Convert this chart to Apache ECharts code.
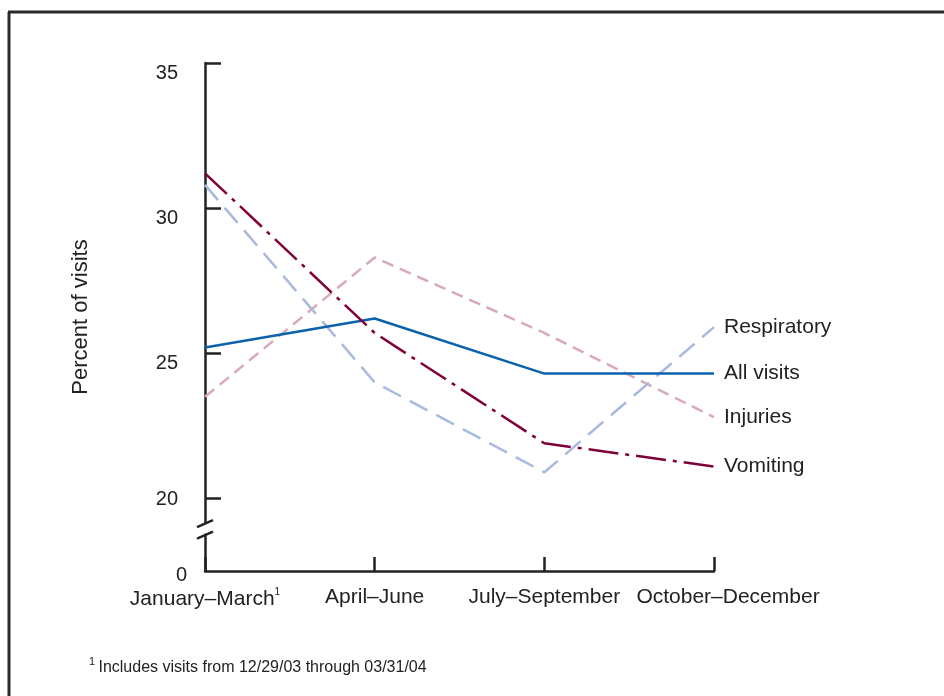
<!DOCTYPE html>
<html lang="en">
<head>
    <meta charset="UTF-8">
    <title>Percent of visits by quarter</title>
    <script type="text/javascript" src="https://cdn.jsdelivr.net/npm/echarts@6/dist/echarts.min.js"></script>
    <style>
        html, body { margin: 0; padding: 0; background: #fff; }
    </style>
</head>
<body>
    <div id="main" style="width: 944px; height:696px;"></div>
    <script type="text/javascript">
        var categories = ['January–March', 'April–June', 'July–September', 'October–December'];
        var allVisits = [25.2, 26.2, 24.3, 24.3];
        var respiratory = [30.8, 24.0, 20.9, 25.9];
        var injuries = [23.5, 28.3, 25.7, 22.8];
        var vomiting = [31.2, 25.7, 21.9, 21.1];
        var yTicks = [20, 25, 30, 35];
        var yBottom = 17.5;   // axis is broken below 20, bottom is labelled 0
        var footnote = 'Includes visits from 12/29/03 through 03/31/04';

        var font = '"Liberation Sans", Arial, sans-serif';
        var myChart = echarts.init(document.getElementById('main'));

        var option = {
            backgroundColor: '#fff',
            animation: false,
            textStyle: { fontFamily: font },
            grid: { left: 205, right: 230, top: 63, bottom: 125 },
            xAxis: {
                type: 'category',
                data: categories,
                boundaryGap: false,
                axisLine: { lineStyle: { color: '#222', width: 2.5 } },
                axisTick: { inside: true, interval: 0, length: 14, lineStyle: { color: '#222', width: 2.5 } },
                axisLabel: {
                    interval: 0,
                    hideOverlap: false,
                    color: '#222',
                    fontSize: 21,
                    margin: 16,
                    formatter: function (v, i) {
                        if (i === 0) return '{m|' + v + '}{sup|1}';
                        if (i === categories.length - 1) return '{last|' + v + '}';
                        return '{m|' + v + '}';
                    },
                    rich: {
                        m: { fontSize: 21, color: '#222', fontFamily: font },
                        last: { fontSize: 21, color: '#222', fontFamily: font, padding: [0, 0, 0, 28] },
                        sup: { fontSize: 10, color: '#222', fontFamily: font, padding: [0, 0, 14, 0] }
                    }
                }
            },
            yAxis: {
                type: 'value',
                min: yBottom,
                max: 35,
                name: 'Percent of visits',
                nameLocation: 'middle',
                nameRotate: 90,
                nameGap: 113,
                nameTextStyle: { fontSize: 22, color: '#222', fontFamily: font },
                splitLine: { show: false },
                axisLine: { show: true, lineStyle: { color: '#222', width: 2.5 } },
                axisTick: {
                    show: true, inside: true, length: 16,
                    customValues: yTicks,
                    lineStyle: { color: '#222', width: 2.5 }
                },
                axisLabel: {
                    color: '#222',
                    fontSize: 20,
                    margin: 18,
                    customValues: [yBottom].concat(yTicks),
                    formatter: function (v) {
                        if (v < yTicks[0]) return '{z|0}';
                        if (v === yTicks[0]) return '{mid|' + v + '}';
                        return '{lo|' + v + '}';
                    },
                    rich: {
                        z: { fontSize: 20, color: '#222', fontFamily: font, padding: [8, 0, 0, 0] },
                        mid: { fontSize: 20, color: '#222', fontFamily: font, padding: [2, 9, 0, 0] },
                        lo: { fontSize: 20, color: '#222', fontFamily: font, padding: [20, 9, 0, 0] }
                    }
                }
            },
            series: [
                {
                    name: 'Injuries', type: 'line', data: injuries, symbol: 'none',
                    lineStyle: { color: '#d8aab5', width: 2.5, type: [12, 7] }
                },
                {
                    name: 'Respiratory', type: 'line', data: respiratory, symbol: 'none',
                    lineStyle: { color: '#a9b9df', width: 2.5, type: [20, 10] }
                },
                {
                    name: 'All visits', type: 'line', data: allVisits, symbol: 'none',
                    lineStyle: { color: '#0a62ad', width: 2.5, type: 'solid' }
                },
                {
                    name: 'Vomiting', type: 'line', data: vomiting, symbol: 'none',
                    lineStyle: { color: '#80003a', width: 2.5, type: [30, 7, 4, 7] }
                }
            ].map(function (s) {
                s.endLabel = {
                    show: true, formatter: '{a}', distance: 10,
                    color: '#222', fontSize: 21, fontFamily: font
                };
                return s;
            }),
            graphic: [
                // frame on left and top
                { type: 'line', shape: { x1: 9, y1: 12, x2: 9, y2: 696 }, style: { stroke: '#2a2a2a', lineWidth: 3 } },
                { type: 'line', shape: { x1: 8, y1: 12, x2: 944, y2: 12 }, style: { stroke: '#2a2a2a', lineWidth: 3 } },
                {
                    type: 'text', left: 89, top: 656,
                    style: {
                        text: '{s|1} {t|' + footnote + '}',
                        rich: {
                            s: { fontSize: 11, fill: '#222', fontFamily: font, padding: [0, 0, 12, 0] },
                            t: { fontSize: 16, fill: '#222', fontFamily: font }
                        }
                    }
                }
            ]
        };

        myChart.setOption(option);

        // axis break mark "//" between 0 and 20
        var ax = myChart.convertToPixel({ xAxisIndex: 0 }, categories[0]);
        var yA = myChart.convertToPixel({ yAxisIndex: 0 }, 19.15);
        var yB = myChart.convertToPixel({ yAxisIndex: 0 }, 18.75);
        myChart.setOption({
            graphic: option.graphic.concat([
                { type: 'rect', shape: { x: ax - 4, y: yA + 1, width: 8, height: yB - yA - 2 }, style: { fill: '#fff' }, z: 100 },
                { type: 'line', shape: { x1: ax - 8, y1: yA + 4, x2: ax + 8, y2: yA - 3 }, style: { stroke: '#222', lineWidth: 2.5 }, z: 101 },
                { type: 'line', shape: { x1: ax - 8, y1: yB + 4, x2: ax + 8, y2: yB - 3 }, style: { stroke: '#222', lineWidth: 2.5 }, z: 101 }
            ])
        });
    </script>
</body>
</html>
